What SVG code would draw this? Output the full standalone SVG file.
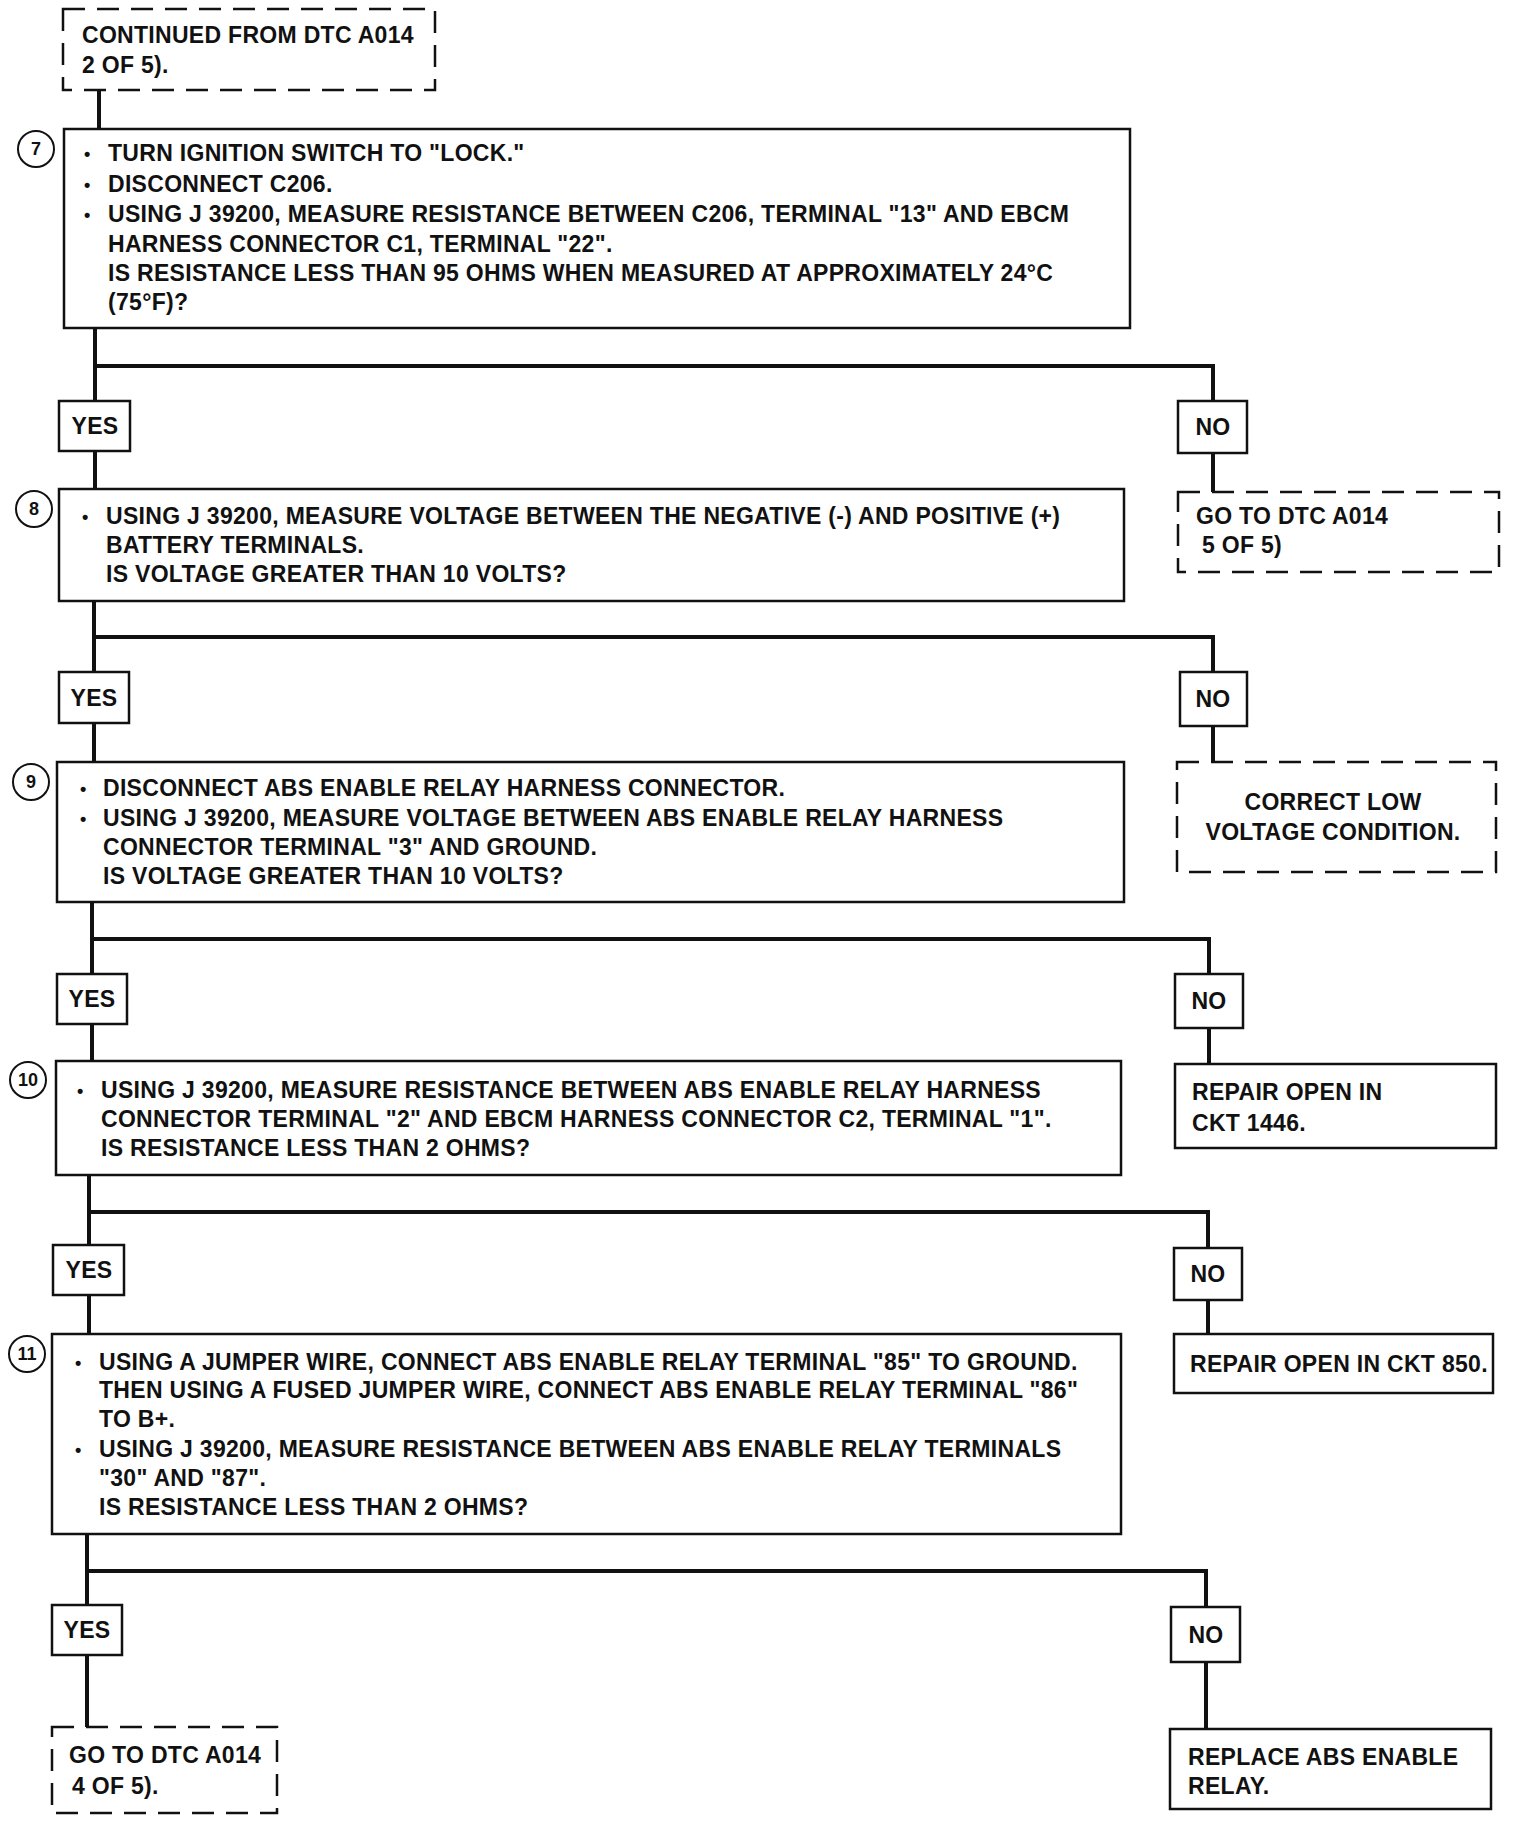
<svg xmlns="http://www.w3.org/2000/svg" width="1520" height="1822" viewBox="0 0 1520 1822">
<style>
.bg{fill:#fff}
.box{fill:#fff;stroke:#111;stroke-width:2.5}
.dash{fill:#fff;stroke:#111;stroke-width:2.5;stroke-dasharray:22 12}
.lbl{fill:#fff;stroke:#111;stroke-width:2.5}
.num{fill:#fff;stroke:#111;stroke-width:2}
.wire{fill:none;stroke:#111;stroke-width:4;stroke-linecap:square}
.t{font-family:"Liberation Sans",Arial,Helvetica,sans-serif;font-weight:bold;font-size:23px;letter-spacing:0.3px;fill:#111}
.b{font-family:"Liberation Sans",Arial,Helvetica,sans-serif;font-weight:bold;font-size:18px;fill:#111}
.c{font-family:"Liberation Sans",Arial,Helvetica,sans-serif;font-weight:bold;font-size:18px;fill:#111;text-anchor:middle}
.m{text-anchor:middle}
</style>
<rect class="bg" x="0" y="0" width="1520" height="1822"/>

<g id="connectors">
  <path class="wire" d="M99 90 V129"/>
  <path class="wire" d="M95 328 V401 M95 451 V489 M95 366 H1213 V401 M1213 453 V492"/>
  <path class="wire" d="M94 601 V672 M94 723 V762 M94 637 H1213 V672 M1213 726 V762"/>
  <path class="wire" d="M92 902 V974 M92 1024 V1061 M92 939 H1209 V974 M1209 1028 V1064"/>
  <path class="wire" d="M89 1175 V1245 M89 1295 V1334 M89 1212 H1208 V1248 M1208 1300 V1334"/>
  <path class="wire" d="M87 1534 V1605 M87 1655 V1727 M87 1571 H1206 V1607 M1206 1662 V1729"/>
</g>

<g id="start">
  <rect class="dash" x="63" y="9" width="372" height="81"/>
  <text class="t" x="82" y="43">CONTINUED FROM DTC A014</text>
  <text class="t" x="82" y="73">2 OF 5).</text>
</g>

<g id="step7">
  <rect class="box" x="64" y="129" width="1066" height="199"/>
  <circle class="num" cx="36" cy="149" r="18"/>
  <text class="c" x="36" y="155">7</text>
  <text class="b" x="84" y="160">•</text>
  <text class="t" x="108" y="161">TURN IGNITION SWITCH TO "LOCK."</text>
  <text class="b" x="84" y="191">•</text>
  <text class="t" x="108" y="192">DISCONNECT C206.</text>
  <text class="b" x="84" y="221">•</text>
  <text class="t" x="108" y="222">USING J 39200, MEASURE RESISTANCE BETWEEN C206, TERMINAL "13" AND EBCM</text>
  <text class="t" x="108" y="252">HARNESS CONNECTOR C1, TERMINAL "22".</text>
  <text class="t" x="108" y="281">IS RESISTANCE LESS THAN 95 OHMS WHEN MEASURED AT APPROXIMATELY 24°C</text>
  <text class="t" x="108" y="310">(75°F)?</text>
</g>

<g id="yes7">
  <rect class="lbl" x="59" y="401" width="71" height="50"/>
  <text class="t m" x="95" y="434">YES</text>
</g>
<g id="no7">
  <rect class="lbl" x="1178" y="401" width="69" height="52"/>
  <text class="t m" x="1213" y="435">NO</text>
</g>
<g id="goto5">
  <rect class="dash" x="1178" y="492" width="321" height="80"/>
  <text class="t" x="1196" y="524">GO TO DTC A014</text>
  <text class="t" x="1202" y="553">5 OF 5)</text>
</g>

<g id="step8">
  <rect class="box" x="59" y="489" width="1065" height="112"/>
  <circle class="num" cx="34" cy="509" r="18"/>
  <text class="c" x="34" y="515">8</text>
  <text class="b" x="82" y="523">•</text>
  <text class="t" x="106" y="524">USING J 39200, MEASURE VOLTAGE BETWEEN THE NEGATIVE (-) AND POSITIVE (+)</text>
  <text class="t" x="106" y="553">BATTERY TERMINALS.</text>
  <text class="t" x="106" y="582">IS VOLTAGE GREATER THAN 10 VOLTS?</text>
</g>

<g id="yes8">
  <rect class="lbl" x="59" y="672" width="70" height="51"/>
  <text class="t m" x="94" y="706">YES</text>
</g>
<g id="no8">
  <rect class="lbl" x="1180" y="672" width="67" height="54"/>
  <text class="t m" x="1213" y="707">NO</text>
</g>
<g id="lowvolt">
  <rect class="dash" x="1177" y="762" width="319" height="110"/>
  <text class="t m" x="1333" y="810">CORRECT LOW</text>
  <text class="t m" x="1333" y="840">VOLTAGE CONDITION.</text>
</g>

<g id="step9">
  <rect class="box" x="57" y="762" width="1067" height="140"/>
  <circle class="num" cx="31" cy="782" r="18"/>
  <text class="c" x="31" y="788">9</text>
  <text class="b" x="80" y="795">•</text>
  <text class="t" x="103" y="796">DISCONNECT ABS ENABLE RELAY HARNESS CONNECTOR.</text>
  <text class="b" x="80" y="825">•</text>
  <text class="t" x="103" y="826">USING J 39200, MEASURE VOLTAGE BETWEEN ABS ENABLE RELAY HARNESS</text>
  <text class="t" x="103" y="855">CONNECTOR TERMINAL "3" AND GROUND.</text>
  <text class="t" x="103" y="884">IS VOLTAGE GREATER THAN 10 VOLTS?</text>
</g>

<g id="yes9">
  <rect class="lbl" x="57" y="974" width="70" height="50"/>
  <text class="t m" x="92" y="1007">YES</text>
</g>
<g id="no9">
  <rect class="lbl" x="1175" y="974" width="68" height="54"/>
  <text class="t m" x="1209" y="1009">NO</text>
</g>
<g id="ckt1446">
  <rect class="box" x="1175" y="1064" width="321" height="84"/>
  <text class="t" x="1192" y="1100">REPAIR OPEN IN</text>
  <text class="t" x="1192" y="1131">CKT 1446.</text>
</g>

<g id="step10">
  <rect class="box" x="56" y="1061" width="1065" height="114"/>
  <circle class="num" cx="28" cy="1080" r="18"/>
  <text class="c" x="28" y="1086">10</text>
  <text class="b" x="77" y="1097">•</text>
  <text class="t" x="101" y="1098">USING J 39200, MEASURE RESISTANCE BETWEEN ABS ENABLE RELAY HARNESS</text>
  <text class="t" x="101" y="1127">CONNECTOR TERMINAL "2" AND EBCM HARNESS CONNECTOR C2, TERMINAL "1".</text>
  <text class="t" x="101" y="1156">IS RESISTANCE LESS THAN 2 OHMS?</text>
</g>

<g id="yes10">
  <rect class="lbl" x="53" y="1245" width="71" height="50"/>
  <text class="t m" x="89" y="1278">YES</text>
</g>
<g id="no10">
  <rect class="lbl" x="1174" y="1248" width="68" height="52"/>
  <text class="t m" x="1208" y="1282">NO</text>
</g>
<g id="ckt850">
  <rect class="box" x="1174" y="1334" width="319" height="59"/>
  <text class="t" x="1190" y="1372">REPAIR OPEN IN CKT 850.</text>
</g>

<g id="step11">
  <rect class="box" x="52" y="1334" width="1069" height="200"/>
  <circle class="num" cx="27" cy="1354" r="18"/>
  <text class="c" x="27" y="1360">11</text>
  <text class="b" x="75" y="1369">•</text>
  <text class="t" x="99" y="1370">USING A JUMPER WIRE, CONNECT ABS ENABLE RELAY TERMINAL "85" TO GROUND.</text>
  <text class="t" x="99" y="1398">THEN USING A FUSED JUMPER WIRE, CONNECT ABS ENABLE RELAY TERMINAL "86"</text>
  <text class="t" x="99" y="1427">TO B+.</text>
  <text class="b" x="75" y="1456">•</text>
  <text class="t" x="99" y="1457">USING J 39200, MEASURE RESISTANCE BETWEEN ABS ENABLE RELAY TERMINALS</text>
  <text class="t" x="99" y="1486">"30" AND "87".</text>
  <text class="t" x="99" y="1515">IS RESISTANCE LESS THAN 2 OHMS?</text>
</g>

<g id="yes11">
  <rect class="lbl" x="52" y="1605" width="70" height="50"/>
  <text class="t m" x="87" y="1638">YES</text>
</g>
<g id="no11">
  <rect class="lbl" x="1171" y="1607" width="69" height="55"/>
  <text class="t m" x="1206" y="1643">NO</text>
</g>
<g id="goto4">
  <rect class="dash" x="52" y="1727" width="225" height="86"/>
  <text class="t" x="69" y="1763">GO TO DTC A014</text>
  <text class="t" x="72" y="1794">4 OF 5).</text>
</g>
<g id="replace">
  <rect class="box" x="1170" y="1729" width="321" height="80"/>
  <text class="t" x="1188" y="1765">REPLACE ABS ENABLE</text>
  <text class="t" x="1188" y="1794">RELAY.</text>
</g>
</svg>
